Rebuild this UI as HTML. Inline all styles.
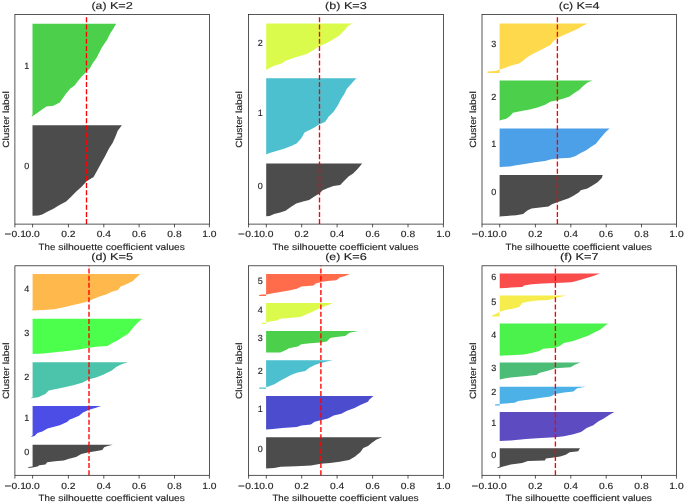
<!DOCTYPE html>
<html><head><meta charset="utf-8"><title>Silhouette plots</title>
<style>
html,body{margin:0;padding:0;background:#fff;}
body{width:685px;height:503px;overflow:hidden;}
svg{display:block;will-change:transform;}
text{text-rendering:geometricPrecision;}
text{font-family:"Liberation Sans", sans-serif;fill:#242424;stroke:#242424;stroke-width:0.14px;}
.t{font-size:9.0px;}
.tt{font-size:10.0px;}
</style></head><body>
<svg width="685" height="503" viewBox="0 0 685 503">
<rect width="685" height="503" fill="#fff"/>
<!-- panel a -->
<g>
<polygon fill="#4cd04c" points="32.5,23.8 116.2,23.8 113.4,28.5 109.9,34.1 107.1,39.8 104.2,44 101.4,48.2 98.6,53.9 96.5,58.1 92.9,63.1 90.1,68 86.6,71.5 82.4,75.8 78.6,80.2 74.6,85.6 70.4,88.5 66.1,93.4 62.6,98.4 59.8,102.6 53.4,105.7 46.4,106.5 40.7,110.4 35.1,114.6 31.5,116.7 32.5,114.5"/>
<polygon fill="#4c4c4c" points="32.5,125.2 121.9,125.2 117.7,130.8 115.5,136.5 112.7,142.8 109,148.6 104.9,156.5 101.4,162.8 97.2,170.6 93.6,176.9 86.6,181.2 81.6,186.8 76,191.8 70.4,197.4 66.1,201.6 59.1,205.2 53.4,208.7 47.8,211.5 42.1,214.4 38.6,215.5 32.5,215.8"/>
<text class="t" x="26.8" y="69.2" text-anchor="middle">1</text>
<text class="t" x="26.8" y="169.4" text-anchor="middle">0</text>
<line x1="86.5" y1="224.1" x2="86.5" y2="14.6" stroke="#f00" stroke-width="1.35" stroke-dasharray="5 2.21"/>
<rect x="14.9" y="14.6" width="194.5" height="209.5" fill="none" stroke="#161616" stroke-width="0.72"/>
<line x1="14.9" y1="224.1" x2="14.9" y2="227.4" stroke="#161616" stroke-width="0.72"/><text class="t" y="237.4"><tspan x="4.5" textLength="6.76" lengthAdjust="spacingAndGlyphs">−</tspan><tspan x="11.6" textLength="14.3" lengthAdjust="spacingAndGlyphs">0.1</tspan></text>
<line x1="32.6" y1="224.1" x2="32.6" y2="227.4" stroke="#161616" stroke-width="0.72"/><text class="t" x="32.6" y="237.4" text-anchor="middle" textLength="14.3" lengthAdjust="spacingAndGlyphs">0.0</text>
<line x1="68.4" y1="224.1" x2="68.4" y2="227.4" stroke="#161616" stroke-width="0.72"/><text class="t" x="68.4" y="237.4" text-anchor="middle" textLength="14.3" lengthAdjust="spacingAndGlyphs">0.2</text>
<line x1="103.8" y1="224.1" x2="103.8" y2="227.4" stroke="#161616" stroke-width="0.72"/><text class="t" x="103.8" y="237.4" text-anchor="middle" textLength="14.3" lengthAdjust="spacingAndGlyphs">0.4</text>
<line x1="139.1" y1="224.1" x2="139.1" y2="227.4" stroke="#161616" stroke-width="0.72"/><text class="t" x="139.1" y="237.4" text-anchor="middle" textLength="14.3" lengthAdjust="spacingAndGlyphs">0.6</text>
<line x1="174.5" y1="224.1" x2="174.5" y2="227.4" stroke="#161616" stroke-width="0.72"/><text class="t" x="174.5" y="237.4" text-anchor="middle" textLength="14.3" lengthAdjust="spacingAndGlyphs">0.8</text>
<line x1="209.4" y1="224.1" x2="209.4" y2="227.4" stroke="#161616" stroke-width="0.72"/><text class="t" x="209.4" y="237.4" text-anchor="middle" textLength="14.3" lengthAdjust="spacingAndGlyphs">1.0</text>
<text class="t" y="249.6"><tspan x="38.6" textLength="16.7" lengthAdjust="spacingAndGlyphs">The</tspan> <tspan x="58.2" textLength="44.7" lengthAdjust="spacingAndGlyphs">silhouette</tspan> <tspan x="105.8" textLength="46.9" lengthAdjust="spacingAndGlyphs">coefficient</tspan> <tspan x="155.5" textLength="29.3" lengthAdjust="spacingAndGlyphs">values</tspan></text>
<text class="t" transform="translate(8.8 119.5) rotate(-90)" y="0"><tspan x="-28.3" textLength="31.9" lengthAdjust="spacingAndGlyphs">Cluster</tspan> <tspan x="6.5" textLength="21.8" lengthAdjust="spacingAndGlyphs">label</tspan></text>
<text class="tt" y="8.8"><tspan x="91.5" textLength="15" lengthAdjust="spacingAndGlyphs">(a)</tspan> <tspan x="109.9" textLength="23" lengthAdjust="spacingAndGlyphs">K=2</tspan></text>
</g>
<!-- panel b -->
<g>
<polygon fill="#dbfb4c" points="266.2,23.5 353.1,23.5 348.5,25.6 344.7,30.1 339.4,35.5 333.4,39.3 325.8,43.5 319.4,46.3 313.6,49.9 307.5,53.7 300,56 292.4,58.2 284.8,61.3 281.7,63.5 274.1,65.8 269.6,68.1 266.2,70"/>
<polygon fill="#4cc0cf" points="266.2,78.2 356.4,78.2 353.1,81.8 349.8,85.6 347,88.6 344,94.6 340.9,99.2 337.9,105.3 333.4,112.1 328.8,116.6 325,122 319.4,124.2 313.6,128 304.5,132.6 301.5,137.9 296.9,143.2 292.4,145.5 284.8,148.5 277.2,150.8 269.6,153.1 265.8,154.6 266.2,153.5"/>
<polygon fill="#4c4c4c" points="266.2,163.4 362.2,163.4 357.6,169 353.1,173.5 348.5,176.6 344,181.1 340.2,184.9 333.4,186.1 327.3,188.3 322.7,190.2 319.4,193.6 313.6,197.1 309.1,200.1 303,201.6 296.2,203.4 290.8,206.9 285.5,210.7 280.2,212.5 274.1,214.1 269.6,216 266.2,216.2"/>
<text class="t" x="260.3" y="45.8" text-anchor="middle">2</text>
<text class="t" x="260.3" y="116" text-anchor="middle">1</text>
<text class="t" x="260.3" y="189" text-anchor="middle">0</text>
<line x1="319.5" y1="224.1" x2="319.5" y2="14.6" stroke="#f00" stroke-width="1.35" stroke-dasharray="5 2.21"/>
<rect x="248.6" y="14.6" width="194.9" height="209.5" fill="none" stroke="#161616" stroke-width="0.72"/>
<line x1="248.6" y1="224.1" x2="248.6" y2="227.4" stroke="#161616" stroke-width="0.72"/><text class="t" y="237.4"><tspan x="238.1" textLength="6.76" lengthAdjust="spacingAndGlyphs">−</tspan><tspan x="245.2" textLength="14.3" lengthAdjust="spacingAndGlyphs">0.1</tspan></text>
<line x1="266.3" y1="224.1" x2="266.3" y2="227.4" stroke="#161616" stroke-width="0.72"/><text class="t" x="266.3" y="237.4" text-anchor="middle" textLength="14.3" lengthAdjust="spacingAndGlyphs">0.0</text>
<line x1="301.7" y1="224.1" x2="301.7" y2="227.4" stroke="#161616" stroke-width="0.72"/><text class="t" x="301.7" y="237.4" text-anchor="middle" textLength="14.3" lengthAdjust="spacingAndGlyphs">0.2</text>
<line x1="337.1" y1="224.1" x2="337.1" y2="227.4" stroke="#161616" stroke-width="0.72"/><text class="t" x="337.1" y="237.4" text-anchor="middle" textLength="14.3" lengthAdjust="spacingAndGlyphs">0.4</text>
<line x1="372.6" y1="224.1" x2="372.6" y2="227.4" stroke="#161616" stroke-width="0.72"/><text class="t" x="372.6" y="237.4" text-anchor="middle" textLength="14.3" lengthAdjust="spacingAndGlyphs">0.6</text>
<line x1="408" y1="224.1" x2="408" y2="227.4" stroke="#161616" stroke-width="0.72"/><text class="t" x="408" y="237.4" text-anchor="middle" textLength="14.3" lengthAdjust="spacingAndGlyphs">0.8</text>
<line x1="443.4" y1="224.1" x2="443.4" y2="227.4" stroke="#161616" stroke-width="0.72"/><text class="t" x="443.4" y="237.4" text-anchor="middle" textLength="14.3" lengthAdjust="spacingAndGlyphs">1.0</text>
<text class="t" y="249.6"><tspan x="272.4" textLength="16.7" lengthAdjust="spacingAndGlyphs">The</tspan> <tspan x="292" textLength="44.7" lengthAdjust="spacingAndGlyphs">silhouette</tspan> <tspan x="339.6" textLength="46.9" lengthAdjust="spacingAndGlyphs">coefficient</tspan> <tspan x="389.3" textLength="29.3" lengthAdjust="spacingAndGlyphs">values</tspan></text>
<text class="t" transform="translate(242.4 119.5) rotate(-90)" y="0"><tspan x="-28.3" textLength="31.9" lengthAdjust="spacingAndGlyphs">Cluster</tspan> <tspan x="6.5" textLength="21.8" lengthAdjust="spacingAndGlyphs">label</tspan></text>
<text class="tt" y="8.8"><tspan x="325.1" textLength="15.3" lengthAdjust="spacingAndGlyphs">(b)</tspan> <tspan x="343.9" textLength="23" lengthAdjust="spacingAndGlyphs">K=3</tspan></text>
</g>
<!-- panel c -->
<g>
<polygon fill="#ffd94c" points="499.6,23.4 587.9,23.4 583.4,25.6 577.4,29 570.7,31.9 563.9,34.9 557.5,38 553.7,40.9 550.4,45.1 543.6,48.5 536.8,51.9 531.7,54.4 526.6,57.8 522.4,61.2 519,63.4 511.4,65.4 504.6,68 500.4,69.4 498.7,69.7 495.8,71 487.6,71.6 487.6,72.9 499.6,72.9"/>
<polygon fill="#4cd04c" points="499.6,80.6 592.4,80.6 587.6,82.4 583.4,85.7 579.1,90 574.8,92.8 569,96.8 563.8,98.6 557.4,100.3 550.3,101.8 545.1,104.7 538.3,107.2 529.9,109.4 521.4,111 512.9,112.7 510.4,115.7 506.2,118.8 499.6,120.5"/>
<polygon fill="#4ca0e7" points="499.6,128.5 609.6,128.5 605.2,132.6 600.1,138.6 595.9,143.7 590.8,147 585.8,150.4 580.7,153 575.6,156 570.5,157.7 557.3,158.4 550.2,159.4 545.1,161.1 535,162.3 524.8,164 516.3,165.2 509.5,166.5 499.6,167"/>
<polygon fill="#4c4c4c" points="499.6,175.1 602.7,175.1 601.8,177.9 597.6,182.2 592.5,185.6 587.4,188.6 580.7,190.3 579,192.3 573.9,195.4 568.8,198.3 563.7,200 557.3,202.2 551.9,204.2 548.5,206.4 540,207.6 531.6,208.4 527.3,210.6 523.1,214 516.3,215.2 506.2,216 499,216.4 499.6,215.9"/>
<text class="t" x="493.8" y="47" text-anchor="middle">3</text>
<text class="t" x="493.8" y="99.7" text-anchor="middle">2</text>
<text class="t" x="493.8" y="146.8" text-anchor="middle">1</text>
<text class="t" x="493.8" y="195.1" text-anchor="middle">0</text>
<line x1="557.4" y1="224.1" x2="557.4" y2="14.6" stroke="#f00" stroke-width="1.35" stroke-dasharray="5 2.21"/>
<rect x="482" y="14.6" width="194.5" height="209.5" fill="none" stroke="#161616" stroke-width="0.72"/>
<line x1="482" y1="224.1" x2="482" y2="227.4" stroke="#161616" stroke-width="0.72"/><text class="t" y="237.4"><tspan x="471.5" textLength="6.76" lengthAdjust="spacingAndGlyphs">−</tspan><tspan x="478.6" textLength="14.3" lengthAdjust="spacingAndGlyphs">0.1</tspan></text>
<line x1="499.7" y1="224.1" x2="499.7" y2="227.4" stroke="#161616" stroke-width="0.72"/><text class="t" x="499.7" y="237.4" text-anchor="middle" textLength="14.3" lengthAdjust="spacingAndGlyphs">0.0</text>
<line x1="535.4" y1="224.1" x2="535.4" y2="227.4" stroke="#161616" stroke-width="0.72"/><text class="t" x="535.4" y="237.4" text-anchor="middle" textLength="14.3" lengthAdjust="spacingAndGlyphs">0.2</text>
<line x1="570.8" y1="224.1" x2="570.8" y2="227.4" stroke="#161616" stroke-width="0.72"/><text class="t" x="570.8" y="237.4" text-anchor="middle" textLength="14.3" lengthAdjust="spacingAndGlyphs">0.4</text>
<line x1="606.2" y1="224.1" x2="606.2" y2="227.4" stroke="#161616" stroke-width="0.72"/><text class="t" x="606.2" y="237.4" text-anchor="middle" textLength="14.3" lengthAdjust="spacingAndGlyphs">0.6</text>
<line x1="641.5" y1="224.1" x2="641.5" y2="227.4" stroke="#161616" stroke-width="0.72"/><text class="t" x="641.5" y="237.4" text-anchor="middle" textLength="14.3" lengthAdjust="spacingAndGlyphs">0.8</text>
<line x1="676.5" y1="224.1" x2="676.5" y2="227.4" stroke="#161616" stroke-width="0.72"/><text class="t" x="676.5" y="237.4" text-anchor="middle" textLength="14.3" lengthAdjust="spacingAndGlyphs">1.0</text>
<text class="t" y="249.6"><tspan x="505.6" textLength="16.7" lengthAdjust="spacingAndGlyphs">The</tspan> <tspan x="525.2" textLength="44.7" lengthAdjust="spacingAndGlyphs">silhouette</tspan> <tspan x="572.8" textLength="46.9" lengthAdjust="spacingAndGlyphs">coefficient</tspan> <tspan x="622.6" textLength="29.3" lengthAdjust="spacingAndGlyphs">values</tspan></text>
<text class="t" transform="translate(475.8 119.5) rotate(-90)" y="0"><tspan x="-28.3" textLength="31.9" lengthAdjust="spacingAndGlyphs">Cluster</tspan> <tspan x="6.5" textLength="21.8" lengthAdjust="spacingAndGlyphs">label</tspan></text>
<text class="tt" y="8.8"><tspan x="558.8" textLength="14.4" lengthAdjust="spacingAndGlyphs">(c)</tspan> <tspan x="576.6" textLength="23" lengthAdjust="spacingAndGlyphs">K=4</tspan></text>
</g>
<!-- panel d -->
<g>
<polygon fill="#ffb84c" points="32.6,274.1 140.2,274.1 136.4,277.6 132.9,281.1 125.9,284.6 120.6,286.4 118,289.9 111.8,291.7 106.6,294.3 99.6,296.6 92.6,299.2 89.1,301 82.1,303 73.3,305.1 62.8,307.4 54,309.2 43.5,310 31.3,310.6 32.6,309.6"/>
<polygon fill="#4cff4c" points="32.6,318.8 142.5,318.8 138.1,322.3 134.6,325.8 131.1,330.2 127.6,334.2 122.4,337.2 117.1,340.7 111.8,343.3 107.5,346 96.1,346.8 89.1,347.7 78.6,349.5 69.8,350.7 57.5,352.1 43.5,353.6 32.6,354"/>
<polygon fill="#4cc4ac" points="32.6,362.2 128,362.2 121.5,364.3 116.2,366.9 111.8,370.4 103.1,374.8 96.1,377.4 89.1,379.2 82.1,382.7 73.3,385.3 61,387.9 48.8,390.5 45.3,394 38.3,397.2 30.4,398.3 32.6,397"/>
<polygon fill="#4c4ce7" points="32.6,406.1 101,406.1 95.2,408 89.1,409.7 83,412.4 79,415.8 72.6,418.4 69.8,419.5 67,422 59.8,425.3 47.5,428.5 42.3,431.6 37.5,433 34.5,436 30.9,436.9 32.6,435.2"/>
<polygon fill="#4c4c4c" points="32.6,444.7 112.9,444.7 107.6,445.9 104.1,447.3 102.3,449.9 95.3,451.2 88.9,452.2 81.3,454 76.1,456.9 69.1,458.7 63.8,460.4 55,461.3 47.2,462.2 45.4,464.5 39.3,465.2 37.5,466.6 32.6,467.4 28.4,468 28.4,467.1 32.6,466.6"/>
<text class="t" x="26.8" y="291.6" text-anchor="middle">4</text>
<text class="t" x="26.8" y="335.6" text-anchor="middle">3</text>
<text class="t" x="26.8" y="379.6" text-anchor="middle">2</text>
<text class="t" x="26.8" y="420.6" text-anchor="middle">1</text>
<text class="t" x="26.8" y="455.1" text-anchor="middle">0</text>
<line x1="89" y1="475.3" x2="89" y2="265.8" stroke="#f00" stroke-width="1.35" stroke-dasharray="5 2.21"/>
<rect x="14.9" y="265.8" width="194.5" height="209.5" fill="none" stroke="#161616" stroke-width="0.72"/>
<line x1="14.9" y1="475.3" x2="14.9" y2="478.6" stroke="#161616" stroke-width="0.72"/><text class="t" y="488.6"><tspan x="4.5" textLength="6.76" lengthAdjust="spacingAndGlyphs">−</tspan><tspan x="11.6" textLength="14.3" lengthAdjust="spacingAndGlyphs">0.1</tspan></text>
<line x1="32.6" y1="475.3" x2="32.6" y2="478.6" stroke="#161616" stroke-width="0.72"/><text class="t" x="32.6" y="488.6" text-anchor="middle" textLength="14.3" lengthAdjust="spacingAndGlyphs">0.0</text>
<line x1="68.4" y1="475.3" x2="68.4" y2="478.6" stroke="#161616" stroke-width="0.72"/><text class="t" x="68.4" y="488.6" text-anchor="middle" textLength="14.3" lengthAdjust="spacingAndGlyphs">0.2</text>
<line x1="103.8" y1="475.3" x2="103.8" y2="478.6" stroke="#161616" stroke-width="0.72"/><text class="t" x="103.8" y="488.6" text-anchor="middle" textLength="14.3" lengthAdjust="spacingAndGlyphs">0.4</text>
<line x1="139.1" y1="475.3" x2="139.1" y2="478.6" stroke="#161616" stroke-width="0.72"/><text class="t" x="139.1" y="488.6" text-anchor="middle" textLength="14.3" lengthAdjust="spacingAndGlyphs">0.6</text>
<line x1="174.5" y1="475.3" x2="174.5" y2="478.6" stroke="#161616" stroke-width="0.72"/><text class="t" x="174.5" y="488.6" text-anchor="middle" textLength="14.3" lengthAdjust="spacingAndGlyphs">0.8</text>
<line x1="209.4" y1="475.3" x2="209.4" y2="478.6" stroke="#161616" stroke-width="0.72"/><text class="t" x="209.4" y="488.6" text-anchor="middle" textLength="14.3" lengthAdjust="spacingAndGlyphs">1.0</text>
<text class="t" y="500.8"><tspan x="38.6" textLength="16.7" lengthAdjust="spacingAndGlyphs">The</tspan> <tspan x="58.2" textLength="44.7" lengthAdjust="spacingAndGlyphs">silhouette</tspan> <tspan x="105.8" textLength="46.9" lengthAdjust="spacingAndGlyphs">coefficient</tspan> <tspan x="155.5" textLength="29.3" lengthAdjust="spacingAndGlyphs">values</tspan></text>
<text class="t" transform="translate(8.8 370.7) rotate(-90)" y="0"><tspan x="-28.3" textLength="31.9" lengthAdjust="spacingAndGlyphs">Cluster</tspan> <tspan x="6.5" textLength="21.8" lengthAdjust="spacingAndGlyphs">label</tspan></text>
<text class="tt" y="259.9"><tspan x="91.3" textLength="15.3" lengthAdjust="spacingAndGlyphs">(d)</tspan> <tspan x="110.1" textLength="23" lengthAdjust="spacingAndGlyphs">K=5</tspan></text>
</g>
<!-- panel e -->
<g>
<polygon fill="#ff6c4c" points="266.1,273.9 349.8,273.9 345.1,275.9 339.8,277.6 336.3,280.3 327.6,281.1 320.9,282 315.3,283.8 313.6,285.5 301.3,286.4 296.9,288.7 289,290.4 280.3,292 271.5,293.5 266.4,294.4 262,294.6 259.1,294.9 259.1,295.9 266.1,295.9"/>
<polygon fill="#dbfb4c" points="266.1,302.9 332.8,302.9 328.5,305.1 320.9,307.5 316.2,310 310.1,312.7 304.8,315 300.4,317.1 289,317.9 280.3,318.8 276.8,320.6 269.8,321.4 266.1,322.6 261.8,323 261.8,323.9 266.1,323.9"/>
<polygon fill="#4cd04c" points="266.1,331 358.2,331 349.5,332.8 345.1,336 336.3,336.9 330.2,338.1 326.7,341.6 320.9,342.5 310.1,343.3 301.3,344.2 297.8,346.5 289,348.2 285.5,350.3 280.3,352.4 266.1,352.6"/>
<polygon fill="#4cc0cf" points="266.1,360.2 332.8,360.2 327.1,361.5 320.8,363 314.7,364.9 309,368.1 305.2,371 297.7,372.5 292,374.4 286.3,377.6 280.6,380.5 274.9,383.9 269.2,386.2 266.1,387.2 259.2,387.6 259.2,388.8 266.1,388.8"/>
<polygon fill="#4c4cce" points="266.1,396.1 373.5,396.1 369.4,399.4 367.9,401.7 360.3,405.1 354.6,408 347,410.8 341.3,413.7 333.7,415.6 328,418.4 320.8,420.3 314.7,421.8 310.9,424.5 301.4,425.6 296.7,427 282.5,427.9 273,428.9 266.1,429.4"/>
<polygon fill="#4c4c4c" points="266.1,437.2 382.2,437.2 376.6,439.6 371.9,442.8 368.1,445.9 363.3,448.1 360.5,451.9 354.8,456.7 349.1,459.9 339.6,461.8 330.1,462.9 320.6,463.7 311.1,465.6 296,466.2 280.8,466.7 274.1,468.1 266.1,468.4"/>
<text class="t" x="260.3" y="283.7" text-anchor="middle">5</text>
<text class="t" x="260.3" y="312.5" text-anchor="middle">4</text>
<text class="t" x="260.3" y="340.8" text-anchor="middle">3</text>
<text class="t" x="260.3" y="373.8" text-anchor="middle">2</text>
<text class="t" x="260.3" y="412.1" text-anchor="middle">1</text>
<text class="t" x="260.3" y="452.1" text-anchor="middle">0</text>
<line x1="320.9" y1="475.3" x2="320.9" y2="265.8" stroke="#f00" stroke-width="1.35" stroke-dasharray="5 2.21"/>
<rect x="248.6" y="265.8" width="194.9" height="209.5" fill="none" stroke="#161616" stroke-width="0.72"/>
<line x1="248.6" y1="475.3" x2="248.6" y2="478.6" stroke="#161616" stroke-width="0.72"/><text class="t" y="488.6"><tspan x="238.1" textLength="6.76" lengthAdjust="spacingAndGlyphs">−</tspan><tspan x="245.2" textLength="14.3" lengthAdjust="spacingAndGlyphs">0.1</tspan></text>
<line x1="266.3" y1="475.3" x2="266.3" y2="478.6" stroke="#161616" stroke-width="0.72"/><text class="t" x="266.3" y="488.6" text-anchor="middle" textLength="14.3" lengthAdjust="spacingAndGlyphs">0.0</text>
<line x1="301.7" y1="475.3" x2="301.7" y2="478.6" stroke="#161616" stroke-width="0.72"/><text class="t" x="301.7" y="488.6" text-anchor="middle" textLength="14.3" lengthAdjust="spacingAndGlyphs">0.2</text>
<line x1="337.1" y1="475.3" x2="337.1" y2="478.6" stroke="#161616" stroke-width="0.72"/><text class="t" x="337.1" y="488.6" text-anchor="middle" textLength="14.3" lengthAdjust="spacingAndGlyphs">0.4</text>
<line x1="372.6" y1="475.3" x2="372.6" y2="478.6" stroke="#161616" stroke-width="0.72"/><text class="t" x="372.6" y="488.6" text-anchor="middle" textLength="14.3" lengthAdjust="spacingAndGlyphs">0.6</text>
<line x1="408" y1="475.3" x2="408" y2="478.6" stroke="#161616" stroke-width="0.72"/><text class="t" x="408" y="488.6" text-anchor="middle" textLength="14.3" lengthAdjust="spacingAndGlyphs">0.8</text>
<line x1="443.4" y1="475.3" x2="443.4" y2="478.6" stroke="#161616" stroke-width="0.72"/><text class="t" x="443.4" y="488.6" text-anchor="middle" textLength="14.3" lengthAdjust="spacingAndGlyphs">1.0</text>
<text class="t" y="500.8"><tspan x="272.4" textLength="16.7" lengthAdjust="spacingAndGlyphs">The</tspan> <tspan x="292" textLength="44.7" lengthAdjust="spacingAndGlyphs">silhouette</tspan> <tspan x="339.6" textLength="46.9" lengthAdjust="spacingAndGlyphs">coefficient</tspan> <tspan x="389.3" textLength="29.3" lengthAdjust="spacingAndGlyphs">values</tspan></text>
<text class="t" transform="translate(242.4 370.7) rotate(-90)" y="0"><tspan x="-28.3" textLength="31.9" lengthAdjust="spacingAndGlyphs">Cluster</tspan> <tspan x="6.5" textLength="21.8" lengthAdjust="spacingAndGlyphs">label</tspan></text>
<text class="tt" y="259.9"><tspan x="325.2" textLength="15.1" lengthAdjust="spacingAndGlyphs">(e)</tspan> <tspan x="343.8" textLength="23" lengthAdjust="spacingAndGlyphs">K=6</tspan></text>
</g>
<!-- panel f -->
<g>
<polygon fill="#fb4c4c" points="499.7,273.4 600,273.4 593.3,276 586.7,277.9 579.1,280.3 571.5,282.2 555.4,282.9 543,283.6 531.7,284.3 524.1,285.5 522.2,287 510.8,287.6 505.1,288.1 499.7,288.2"/>
<polygon fill="#f6ed4c" points="499.7,295.4 566.1,295.4 561.1,296.8 555.4,298 548.7,299.9 537.3,300.6 527.9,301.8 522.2,303.1 519.3,306.9 512.7,308.8 505.1,310.1 499.7,312 491.8,315.8 491.8,316.5 499.7,316.5"/>
<polygon fill="#4cf24c" points="499.7,323.6 607.9,323.6 603.8,326.8 600,329.7 594.3,332.5 588.6,335.4 581,338.2 573.4,341.1 563.9,343 560.1,345.8 555.4,347.7 543,348.7 539.2,351.1 531.7,353 524.1,354.4 510.8,355.3 499.7,355.7"/>
<polygon fill="#4cbd77" points="499.7,362.6 580.6,362.6 575.3,364.5 570.6,367.3 555.4,368.3 548.7,370.6 539.2,373 536.4,374.9 524.1,376.3 510.8,377.4 503.2,378.7 499.7,379.6"/>
<polygon fill="#4cb1e7" points="499.7,386.7 585.8,386.7 577.2,388.2 573.4,391.4 563.9,392.6 555.4,393.9 550.6,396.4 541.1,397.7 529.8,399.6 518.4,400.9 514.6,402.8 505.1,403.6 499.7,404.1 495,404.4 495,405.4 499.7,405.4"/>
<polygon fill="#5d4cc1" points="499.7,411.9 614.3,411.9 609.5,414.8 603.8,418.6 598.1,421.4 593.3,425.2 586.7,428.1 581,431.9 573.4,434.3 563.9,436.2 555.4,437.2 541.1,438.1 526,438.9 510.8,440.4 499.7,441"/>
<polygon fill="#4c4c4c" points="499.7,448.3 580,448.3 578.2,451.2 569.6,452.2 565.8,454.7 560.1,456.6 555.4,457.3 545.9,458.5 544.9,460.4 527.9,461.1 522.2,463 510.8,464.5 503.2,466.4 497.5,468.2 497.5,467.4 499.7,466.5"/>
<text class="t" x="493.8" y="279.6" text-anchor="middle">6</text>
<text class="t" x="493.8" y="305.3" text-anchor="middle">5</text>
<text class="t" x="493.8" y="338.3" text-anchor="middle">4</text>
<text class="t" x="493.8" y="370.8" text-anchor="middle">3</text>
<text class="t" x="493.8" y="395.3" text-anchor="middle">2</text>
<text class="t" x="493.8" y="425.6" text-anchor="middle">1</text>
<text class="t" x="493.8" y="458.1" text-anchor="middle">0</text>
<line x1="555.4" y1="475.3" x2="555.4" y2="265.8" stroke="#f00" stroke-width="1.35" stroke-dasharray="5 2.21"/>
<rect x="482" y="265.8" width="194.5" height="209.5" fill="none" stroke="#161616" stroke-width="0.72"/>
<line x1="482" y1="475.3" x2="482" y2="478.6" stroke="#161616" stroke-width="0.72"/><text class="t" y="488.6"><tspan x="471.5" textLength="6.76" lengthAdjust="spacingAndGlyphs">−</tspan><tspan x="478.6" textLength="14.3" lengthAdjust="spacingAndGlyphs">0.1</tspan></text>
<line x1="499.7" y1="475.3" x2="499.7" y2="478.6" stroke="#161616" stroke-width="0.72"/><text class="t" x="499.7" y="488.6" text-anchor="middle" textLength="14.3" lengthAdjust="spacingAndGlyphs">0.0</text>
<line x1="535.4" y1="475.3" x2="535.4" y2="478.6" stroke="#161616" stroke-width="0.72"/><text class="t" x="535.4" y="488.6" text-anchor="middle" textLength="14.3" lengthAdjust="spacingAndGlyphs">0.2</text>
<line x1="570.8" y1="475.3" x2="570.8" y2="478.6" stroke="#161616" stroke-width="0.72"/><text class="t" x="570.8" y="488.6" text-anchor="middle" textLength="14.3" lengthAdjust="spacingAndGlyphs">0.4</text>
<line x1="606.2" y1="475.3" x2="606.2" y2="478.6" stroke="#161616" stroke-width="0.72"/><text class="t" x="606.2" y="488.6" text-anchor="middle" textLength="14.3" lengthAdjust="spacingAndGlyphs">0.6</text>
<line x1="641.5" y1="475.3" x2="641.5" y2="478.6" stroke="#161616" stroke-width="0.72"/><text class="t" x="641.5" y="488.6" text-anchor="middle" textLength="14.3" lengthAdjust="spacingAndGlyphs">0.8</text>
<line x1="676.5" y1="475.3" x2="676.5" y2="478.6" stroke="#161616" stroke-width="0.72"/><text class="t" x="676.5" y="488.6" text-anchor="middle" textLength="14.3" lengthAdjust="spacingAndGlyphs">1.0</text>
<text class="t" y="500.8"><tspan x="505.6" textLength="16.7" lengthAdjust="spacingAndGlyphs">The</tspan> <tspan x="525.2" textLength="44.7" lengthAdjust="spacingAndGlyphs">silhouette</tspan> <tspan x="572.8" textLength="46.9" lengthAdjust="spacingAndGlyphs">coefficient</tspan> <tspan x="622.6" textLength="29.3" lengthAdjust="spacingAndGlyphs">values</tspan></text>
<text class="t" transform="translate(475.8 370.7) rotate(-90)" y="0"><tspan x="-28.3" textLength="31.9" lengthAdjust="spacingAndGlyphs">Cluster</tspan> <tspan x="6.5" textLength="21.8" lengthAdjust="spacingAndGlyphs">label</tspan></text>
<text class="tt" y="259.9"><tspan x="559.9" textLength="12.2" lengthAdjust="spacingAndGlyphs">(f)</tspan> <tspan x="575.6" textLength="23" lengthAdjust="spacingAndGlyphs">K=7</tspan></text>
</g>
</svg>
</body></html>
